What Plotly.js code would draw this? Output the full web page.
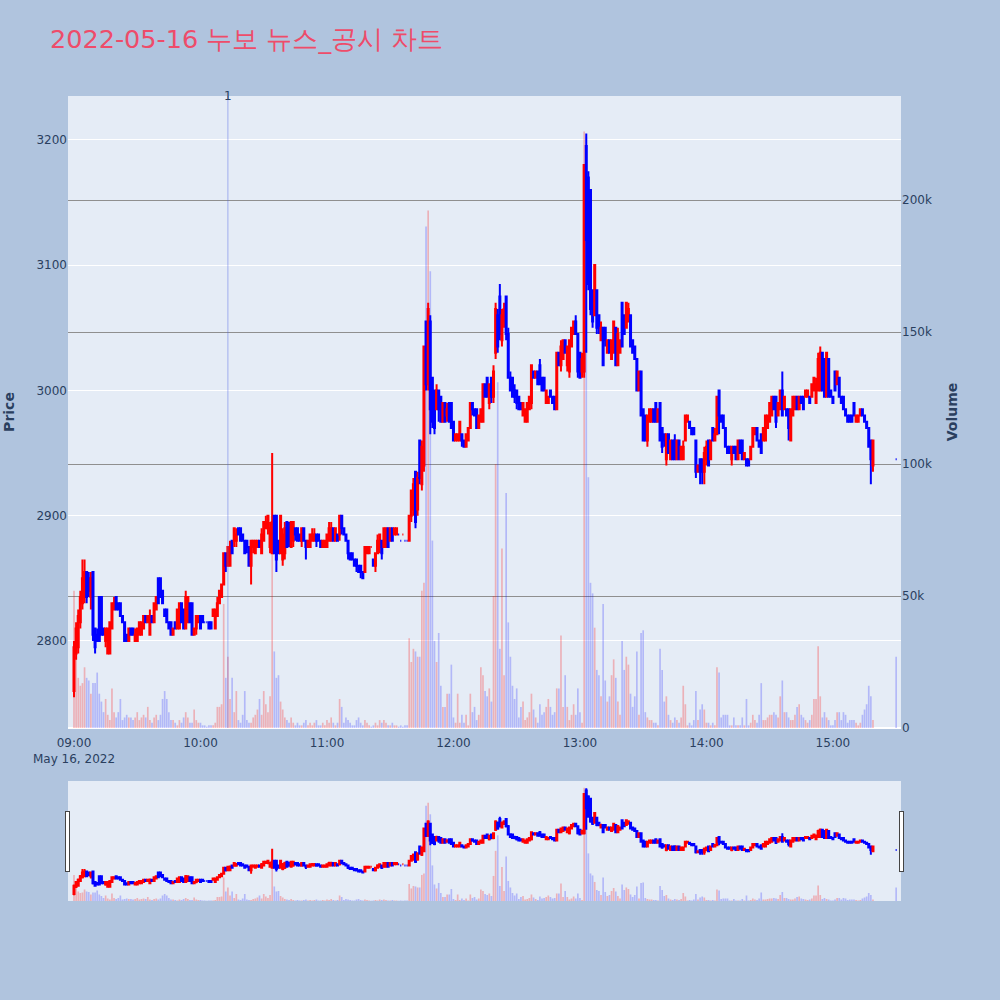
<!DOCTYPE html>
<html>
<head>
<meta charset="utf-8">
<script src="https://cdn.plot.ly/plotly-3.0.1.min.js"></script>
<style>html,body{margin:0;padding:0;background:#B0C4DE;}#chart{width:1000px;height:1000px;}</style>
</head>
<body>
<div id="chart"></div>
<script>
// 1-minute bars from 09:00 to 15:19, plus the 15:30 closing auction (last element)
const sessionStart = '2022-05-16 09:00';
const closingAuctionTime = '2022-05-16 15:30';
const newsTime = '2022-05-16 10:13';
const newsLabel = '1';

const openPrice = [
 2760,2790,2795,2815,2830,2835,2855,2850,2835,2855,
 2810,2805,2835,2835,2810,2800,2790,2790,2810,2825,
 2835,2830,2830,2820,2815,2805,2800,2810,2810,2800,
 2800,2805,2805,2810,2820,2815,2805,2820,2815,2825,
 2850,2850,2840,2825,2825,2815,2815,2805,2815,2810,
 2810,2830,2825,2810,2815,2830,2830,2805,2810,2815,
 2820,2820,2815,2815,2815,2815,2820,2810,2820,2830,
 2835,2845,2870,2860,2860,2880,2880,2880,2890,2890,
 2885,2880,2880,2875,2860,2875,2870,2875,2880,2870,
 2880,2890,2890,2875,2870,2900,2900,2880,2870,2865,
 2870,2895,2890,2875,2880,2890,2890,2885,2880,2890,
 2880,2875,2875,2880,2880,2885,2885,2880,2875,2875,
 2875,2880,2880,2890,2880,2885,2885,2900,2890,2885,
 2880,2870,2870,2865,2865,2860,2860,2855,2855,2870,
 2870,2875,2865,2860,2870,2875,2880,2875,2875,2890,
 2880,2890,2885,2885,2885,2880,2885,2880,2880,2880,
 2900,2905,2935,2905,2960,2925,2940,3055,3005,3055,
 3010,3000,2985,3000,2995,2975,2990,2980,2990,2990,
 2975,2960,2960,2960,2965,2960,2955,2960,2970,2990,
 2985,2985,2970,2975,2975,3005,3010,2990,3010,2995,
 3030,3060,3075,3040,3055,3075,3045,3010,3010,3000,
 3000,2995,2990,2980,2975,2975,2985,2990,3015,3010,
 3015,3020,3010,3010,2990,2990,3000,2995,2995,2985,
 3030,3020,3025,3040,3020,3015,3035,3045,3055,3045,
 3030,3015,3015,3195,3170,3160,3080,3060,3080,3060,
 3040,3050,3050,3030,3040,3025,3030,3050,3020,3030,
 3070,3060,3050,3055,3060,3040,3035,3025,3000,3015,
 2985,2980,2960,2975,2975,2985,2990,2975,2990,2970,
 2965,2945,2965,2945,2960,2960,2945,2960,2945,2945,
 2960,2975,2975,2970,2970,2960,2935,2945,2945,2935,
 2945,2960,2945,2970,2960,2965,3000,2980,2980,2970,
 2955,2955,2945,2955,2955,2945,2960,2960,2945,2945,
 2945,2945,2955,2965,2970,2960,2965,2960,2960,2970,
 2975,2980,2995,2995,2980,2985,3000,2985,2985,2985,
 2960,2980,2985,2995,2985,2995,2995,2995,2995,2995,
 2995,3000,2990,3000,3000,3030,3025,2995,3025,3000,
 2995,3015,3005,3010,2995,2995,2985,2980,2980,2980,
 2990,2975,2975,2980,2985,2980,2975,2970,2960,2940,
 2945
];
const highPrice = [
 2800,2815,2825,2840,2865,2865,2855,2855,2855,2855,
 2810,2810,2835,2835,2810,2810,2810,2815,2830,2835,
 2835,2830,2830,2820,2815,2805,2810,2810,2810,2810,
 2810,2815,2815,2820,2820,2820,2825,2820,2830,2835,
 2850,2850,2840,2825,2825,2815,2815,2810,2815,2825,
 2830,2830,2825,2840,2835,2830,2830,2810,2820,2820,
 2820,2820,2815,2815,2815,2815,2825,2825,2835,2840,
 2845,2870,2870,2875,2880,2880,2890,2890,2890,2890,
 2885,2880,2880,2875,2880,2880,2880,2880,2880,2890,
 2895,2900,2900,2895,2950,2900,2900,2880,2900,2890,
 2895,2895,2895,2895,2895,2890,2890,2885,2890,2890,
 2880,2880,2885,2890,2890,2885,2885,2880,2880,2880,
 2885,2895,2895,2890,2890,2885,2900,2900,2890,2885,
 2880,2870,2870,2865,2865,2860,2860,2855,2875,2875,
 2875,2875,2865,2870,2885,2885,2880,2890,2890,2890,
 2890,2890,2890,2890,2885,2880,2885,2880,2880,2900,
 2920,2930,2935,2935,2960,2960,3035,3055,3070,3060,
 3010,3000,3005,3000,2995,2990,2990,2990,2990,2990,
 2975,2965,2965,2975,2965,2960,2965,2970,2990,2990,
 2985,2985,2980,2985,3005,3005,3010,3005,3010,3020,
 3070,3065,3085,3065,3070,3075,3050,3015,3010,3005,
 3000,2995,2990,2990,2985,2990,2995,3020,3015,3015,
 3015,3025,3010,3010,3000,2995,3000,2995,2995,3030,
 3030,3040,3040,3040,3035,3040,3050,3055,3060,3045,
 3030,3030,3180,3205,3175,3160,3080,3100,3080,3060,
 3055,3050,3050,3040,3040,3040,3055,3050,3050,3040,
 3070,3060,3070,3070,3060,3040,3035,3025,3015,3015,
 2985,2980,2980,2985,2985,2985,2990,2985,2990,2970,
 2965,2965,2965,2960,2960,2965,2960,2960,2955,2960,
 2980,2980,2975,2970,2970,2960,2940,2945,2945,2955,
 2960,2960,2960,2970,2970,2995,3000,2980,2980,2970,
 2955,2955,2955,2955,2955,2960,2960,2960,2950,2945,
 2945,2955,2970,2970,2970,2960,2965,2970,2980,2980,
 2990,2995,2995,2995,2990,3000,3015,2995,2985,2985,
 2985,2995,2995,2995,2995,2995,2995,3000,3000,2995,
 3005,3010,3010,3030,3035,3030,3025,3030,3025,3000,
 2995,3015,3015,3010,2995,2995,2985,2980,2980,2980,
 2990,2980,2980,2985,2985,2980,2975,2970,2960,2960,
 2945
];
const lowPrice = [
 2755,2785,2790,2810,2825,2830,2830,2835,2825,2800,
 2790,2800,2800,2805,2805,2795,2790,2790,2810,2825,
 2825,2825,2820,2815,2800,2800,2800,2805,2805,2800,
 2800,2805,2805,2810,2815,2815,2805,2815,2815,2825,
 2830,2835,2830,2820,2815,2810,2805,2805,2810,2810,
 2810,2815,2810,2810,2815,2815,2805,2805,2805,2815,
 2810,2815,2815,2815,2810,2810,2820,2810,2820,2830,
 2835,2845,2855,2860,2860,2870,2875,2875,2885,2880,
 2880,2870,2870,2860,2845,2870,2870,2875,2875,2870,
 2880,2890,2885,2870,2870,2870,2855,2870,2870,2860,
 2865,2875,2875,2875,2875,2880,2880,2880,2875,2880,
 2865,2875,2875,2880,2880,2875,2880,2875,2875,2875,
 2875,2880,2880,2880,2880,2880,2880,2885,2885,2880,
 2865,2865,2865,2860,2855,2855,2850,2850,2855,2870,
 2870,2875,2860,2855,2870,2870,2865,2875,2875,2875,
 2880,2880,2885,2885,2885,2880,2885,2880,2880,2880,
 2895,2900,2890,2900,2925,2920,2935,3000,3000,2965,
 2970,2965,2985,2975,2975,2975,2975,2975,2975,2970,
 2960,2960,2960,2960,2955,2955,2955,2960,2970,2980,
 2980,2970,2970,2975,2975,2995,2995,2985,2990,2990,
 3025,3030,3040,3035,3050,3040,3010,3000,2995,2990,
 2985,2985,2985,2980,2975,2975,2985,2985,3010,3010,
 3005,3005,3000,3000,2990,2990,2995,2990,2985,2985,
 3020,3015,3025,3030,3015,3010,3035,3045,3045,3010,
 3010,3010,3010,3030,3080,3060,3050,3060,3045,3045,
 3040,3020,3035,3030,3030,3025,3030,3020,3020,3030,
 3035,3045,3050,3055,3035,3030,3025,3000,3000,2980,
 2960,2960,2955,2975,2975,2975,2975,2975,2960,2950,
 2955,2940,2950,2945,2945,2945,2945,2945,2945,2945,
 2960,2975,2970,2965,2965,2930,2935,2925,2925,2925,
 2940,2940,2945,2960,2960,2965,2965,2975,2970,2955,
 2950,2950,2940,2950,2945,2945,2950,2945,2945,2940,
 2940,2945,2955,2965,2960,2955,2950,2960,2960,2970,
 2975,2980,2985,2970,2980,2985,2980,2985,2980,2960,
 2960,2980,2985,2985,2985,2990,2985,2995,2995,2990,
 2995,3000,2990,3000,3000,3000,2995,2995,2995,2995,
 2990,3000,3005,2995,2990,2985,2980,2975,2975,2975,
 2980,2975,2975,2980,2980,2975,2970,2955,2925,2935,
 2945
];
const closePrice = [
 2795,2810,2820,2835,2850,2855,2835,2840,2850,2805,
 2795,2800,2800,2805,2805,2810,2810,2815,2830,2830,
 2825,2825,2820,2815,2800,2800,2810,2805,2805,2805,
 2810,2815,2815,2820,2815,2820,2820,2815,2830,2835,
 2830,2835,2830,2820,2815,2810,2805,2810,2810,2825,
 2830,2815,2810,2835,2835,2815,2805,2810,2820,2820,
 2810,2815,2815,2815,2810,2810,2825,2825,2830,2840,
 2845,2870,2860,2875,2875,2870,2890,2885,2885,2880,
 2880,2870,2875,2860,2880,2880,2880,2880,2875,2885,
 2895,2895,2900,2890,2895,2870,2865,2870,2900,2885,
 2890,2875,2880,2895,2895,2885,2880,2880,2890,2880,
 2875,2880,2885,2885,2885,2880,2880,2875,2880,2880,
 2885,2890,2890,2880,2890,2880,2900,2890,2885,2880,
 2870,2865,2865,2860,2860,2855,2855,2850,2875,2875,
 2875,2875,2860,2870,2880,2885,2870,2890,2890,2875,
 2890,2880,2890,2890,2885,2880,2885,2880,2880,2900,
 2920,2925,2895,2930,2930,2955,3035,3005,3065,2985,
 2975,2970,3000,2985,2975,2990,2975,2985,2975,2970,
 2960,2965,2965,2975,2960,2955,2965,2970,2990,2985,
 2980,2970,2980,2985,3005,2995,2995,3005,2995,3015,
 3065,3035,3045,3060,3065,3045,3010,3000,2995,2995,
 2990,2985,2985,2990,2985,2990,2995,3020,3010,3015,
 3005,3005,3000,3000,3000,2995,2995,2990,2985,3030,
 3020,3035,3040,3030,3035,3040,3050,3055,3045,3015,
 3010,3025,3180,3120,3085,3065,3055,3100,3050,3050,
 3050,3020,3040,3040,3030,3040,3055,3020,3045,3040,
 3035,3045,3070,3065,3035,3030,3025,3000,3015,2980,
 2960,2960,2980,2985,2985,2975,2975,2985,2960,2955,
 2960,2965,2950,2960,2945,2945,2960,2945,2955,2955,
 2980,2980,2970,2965,2965,2935,2940,2935,2935,2950,
 2955,2940,2960,2960,2965,2995,2980,2975,2970,2955,
 2950,2950,2955,2950,2945,2960,2950,2945,2950,2940,
 2940,2955,2970,2970,2960,2955,2950,2970,2980,2980,
 2990,2995,2985,2975,2990,3000,2980,2995,2980,2970,
 2985,2995,2995,2985,2995,2990,2985,3000,3000,2990,
 3005,3010,3005,3025,3030,3000,2995,3030,2995,2995,
 2990,3000,3015,2995,2990,2985,2980,2975,2975,2975,
 2980,2980,2980,2985,2980,2975,2970,2955,2945,2960,
 2945
];
// volume in thousands of shares
const volumeK = [
 52,27,19,16,17,23,19,18,13,17,
 17,21,13,10,6,11,5,3,15,6,
 4,6,11,3,4,5,4,4,3,4,
 6,3,4,5,4,8,3,2,4,5,
 3,5,11,14,11,6,3,3,2,1,
 3,2,4,6,4,2,2,7,3,2,
 2,1,1,0.5,1,1,1,2,8,8,
 9,47,19,27,11,19,6,14,3,2,
 5,14,3,2,2,4,5,7,11,5,
 14,9,6,12,103,29,19,20,10,7,
 4,3,2,4,2,1,2,1,1,2,
 3,1,2,1,2,3,1,1,2,1,
 3,2,4,2,1,2,11,8,2,4,
 3,2,1,1,3,4,2,1,3,2,
 1,0.5,1,2,1,3,2,3,2,1,
 1,2,1,1,0.5,1,0.5,1,1,34,
 25,30,29,27,27,52,55,190,196,173,
 71,33,25,36,16,8,8,13,13,24,
 4,2,13,2,5,2,5,1,13,6,
 8,3,5,23,20,14,12,15,10,50,
 100,131,30,68,20,89,40,27,16,11,
 15,4,8,10,3,4,6,13,7,4,
 2,9,5,6,8,11,8,5,6,15,
 15,35,8,20,8,3,5,9,5,15,
 6,2,226,224,95,55,51,38,22,20,
 12,47,18,10,12,20,26,19,10,5,
 33,22,27,24,13,8,12,29,5,36,
 37,6,4,3,3,2,2,1,30,22,
 10,12,5,3,2,4,3,2,4,16,
 9,1,2,1,3,14,3,7,9,7,
 2,2,1,2,1,23,21,4,5,5,
 5,1,1,4,1,1,1,4,1,11,
 1,2,5,3,2,5,17,3,3,4,
 5,5,6,5,4,12,18,6,6,4,
 3,3,5,8,9,5,4,3,2,3,
 5,11,11,31,12,4,6,4,3,1,
 1,3,6,6,3,6,5,2,3,3,
 3,2,1,2,5,7,9,16,12,3,
 27
];

// time axis: one entry per traded minute, last entry = closing auction
function pad(n){return (n<10?'0':'')+n;}
const times = [];
const base = new Date(sessionStart.replace(' ','T')+':00');
for (let i = 0; i < openPrice.length - 1; i++) {
  const d = new Date(base.getTime() + i*60000);
  times.push('2022-05-16 ' + pad(d.getHours()) + ':' + pad(d.getMinutes()));
}
times.push(closingAuctionTime);

const volume = volumeK.map(v => v*1000);
const volColors = openPrice.map((o,i) => closePrice[i] > o ? 'rgba(255,0,0,0.25)' : 'rgba(0,0,255,0.22)');

const candle = {
  type:'candlestick', x:times, open:openPrice, high:highPrice, low:lowPrice, close:closePrice,
  increasing:{line:{color:'red'}, fillcolor:'red'},
  decreasing:{line:{color:'blue'}, fillcolor:'blue'},
  yaxis:'y', showlegend:false, name:'Price'
};
const bars = {
  type:'bar', x:times, y:volume, marker:{color:volColors, line:{width:0}},
  yaxis:'y2', showlegend:false, name:'Volume'
};

const layout = {
  width:1000, height:1000,
  paper_bgcolor:'#B0C4DE', plot_bgcolor:'#E5ECF6',
  font:{family:'"DejaVu Sans", Verdana, sans-serif', color:'#2a3f5f', size:12},
  title:{text:'2022-05-16 누보 뉴스_공시 차트', font:{size:25.5, color:'#EE4C6A'}, x:0.05, xanchor:'left'},
  margin:{l:68, r:99, t:96, b:272, autoexpand:false},
  showlegend:false,
  bargap:0.2,
  xaxis:{type:'date', range:['2022-05-16 08:57:09','2022-05-16 15:32:18'], showgrid:false, zeroline:false,
         ticks:'outside', ticklen:4, tickcolor:'rgba(0,0,0,0)',
         rangeslider:{visible:true, thickness:0.19, bgcolor:'#E5ECF6'}},
  yaxis:{title:{text:'Price', font:{size:14, weight:'bold'}, standoff:18}, range:[2730.5,3235], dtick:100,
         gridcolor:'white', zeroline:false, ticks:''},
  yaxis2:{title:{text:'Volume', font:{size:14, weight:'bold'}, standoff:16}, overlaying:'y', side:'right', range:[0,239400],
          gridcolor:'#8f8f8f', showgrid:true, zeroline:true, zerolinecolor:'white', zerolinewidth:2, ticks:''},
  shapes:[{type:'line', xref:'x', yref:'paper', x0:newsTime, x1:newsTime, y0:0, y1:1,
           line:{color:'rgba(80,100,230,0.45)', width:1}}],
  annotations:[{x:newsTime, xref:'x', y:1, yref:'paper', text:newsLabel, showarrow:false, yanchor:'middle',
                font:{size:12, color:'#2a3f5f'}}]
};

Plotly.newPlot('chart', [bars, candle], layout, {displayModeBar:false});
</script>
</body>
</html>
